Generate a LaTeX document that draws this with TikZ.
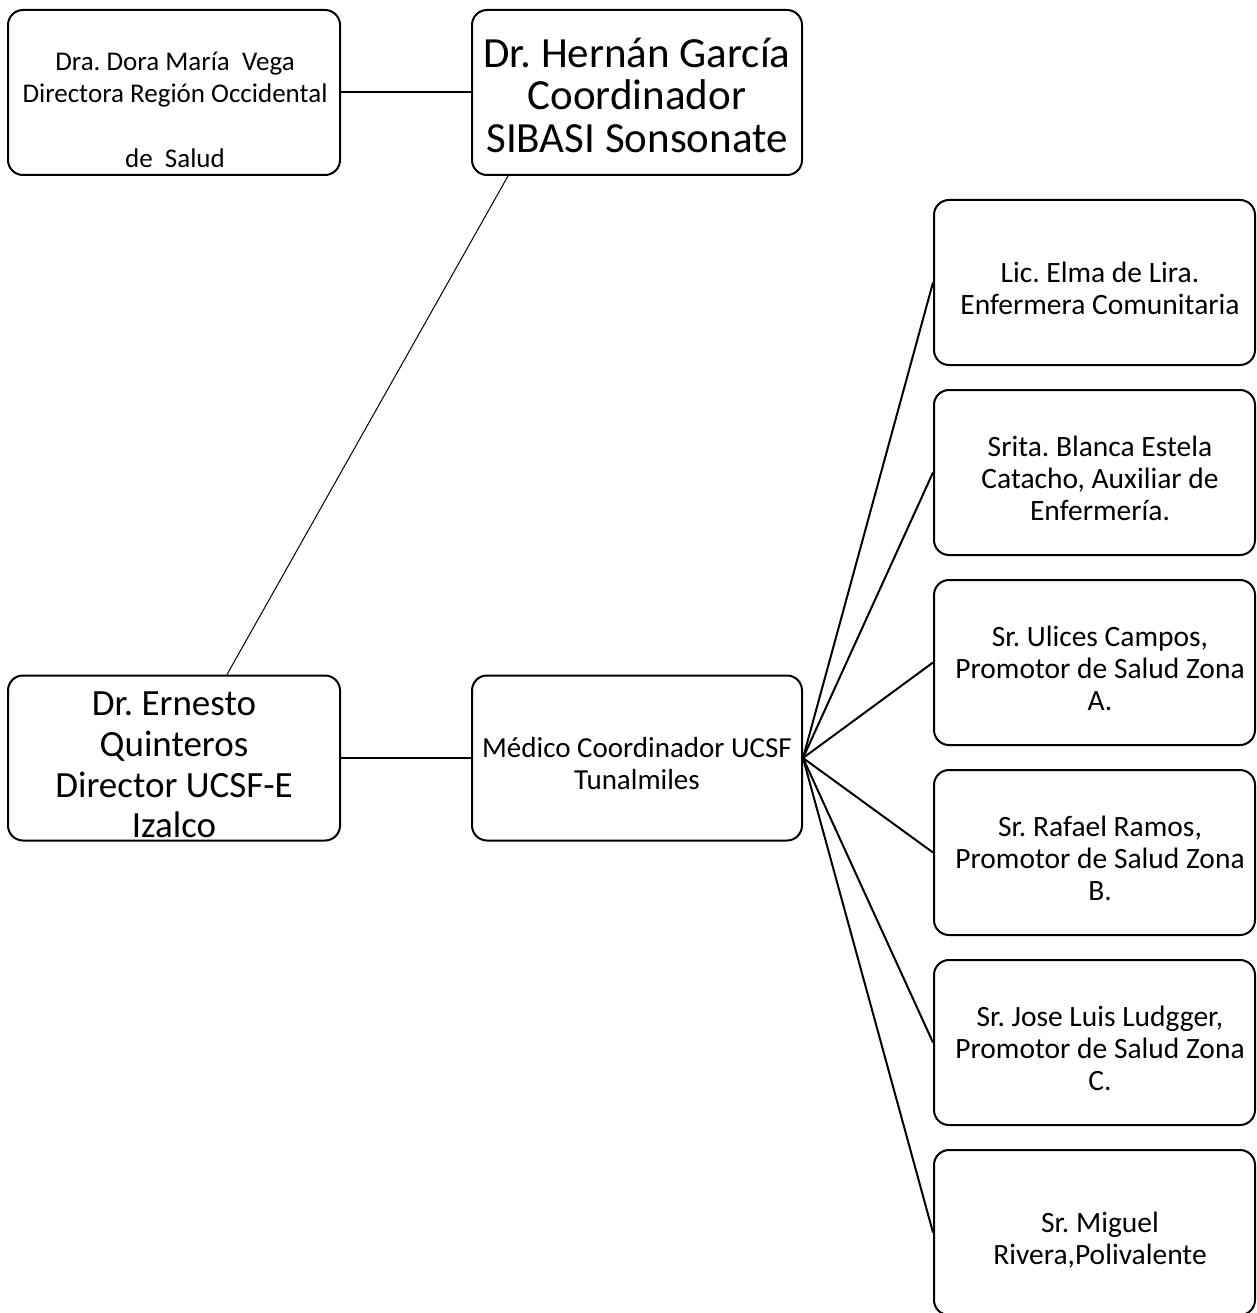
\documentclass[tikz,border=0pt]{standalone}
\usepackage{fontspec}
\setmainfont{Carlito-Regular.ttf}
\frenchspacing
\begin{document}
\frenchspacing
\begin{tikzpicture}[x=1pt,y=-1pt,
  box/.style={draw, line width=2pt, rounded corners=15pt, inner sep=0pt},
  lbox/.style={box, minimum width=332pt, minimum height=165pt},
  mbox/.style={box, minimum width=330pt, minimum height=165pt},
  rbox/.style={box, minimum width=321pt, minimum height=165pt},
  txt/.style={align=center, inner sep=0pt},
  rtxt/.style={txt, font=\fontsize{29.5}{32}\selectfont},
  link/.style={line width=2pt},
  thinlink/.style={line width=1pt}]
\useasboundingbox (0,0) rectangle (1256,1313);
\fill[white] (0,0) rectangle (1256,1313);
% boxes
\node[lbox] (A) at (174,92.5) {};
\node[mbox] (B) at (637,92.5) {};
\node[lbox] (C) at (174,758) {};
\node[mbox] (D) at (637,758) {};
\foreach \i in {0,...,5}{
  \node[rbox] (R\i) at (1094.5,282.5+190*\i) {};
}
% texts
\node[txt, font=\fontsize{27}{32}\selectfont] (At) at (175,110)
  {Dra. Dora María~~Vega\\Directora Región Occidental\\[33pt]de~~Salud};
\node[txt, font=\fontsize{43}{42.5}\selectfont] (Bt) at (637,95)
  {Dr. Hernán García\\Coordinador\\SIBASI Sonsonate};
\node[txt, font=\fontsize{37}{40.7}\selectfont] (Ct) at (174,765)
  {Dr. Ernesto\\Quinteros\\Director UCSF-E\\Izalco};
\node[txt, font=\fontsize{29}{32}\selectfont] (Dt) at (637,764)
  {Médico Coordinador UCSF\\Tunalmiles};
\node[rtxt] (R0t) at (1100,288.5) {Lic. Elma de Lira.\\Enfermera Comunitaria};
\node[rtxt] (R1t) at (1100,478.5) {Srita. Blanca Estela\\Catacho, Auxiliar de\\Enfermería.};
\node[rtxt] (R2t) at (1100,668.5) {Sr. Ulices Campos,\\Promotor de Salud Zona\\A.};
\node[rtxt] (R3t) at (1100,858.5) {Sr. Rafael Ramos,\\Promotor de Salud Zona\\B.};
\node[rtxt] (R4t) at (1100,1048.5) {Sr. Jose Luis Ludgger,\\Promotor de Salud Zona\\C.};
\node[rtxt] (R5t) at (1100,1240.5) {Sr. Miguel\\Rivera,Polivalente};
% connectors
\draw[link] (A.east) -- (B.west);
\draw[link] (C.east) -- (D.west);
\draw[thinlink] ([xshift=-129pt]B.south) -- ([xshift=53pt]C.north);
\foreach \i in {0,...,5}{
  \draw[link] (D.east) -- (R\i.west);
}
\end{tikzpicture}
\end{document}
